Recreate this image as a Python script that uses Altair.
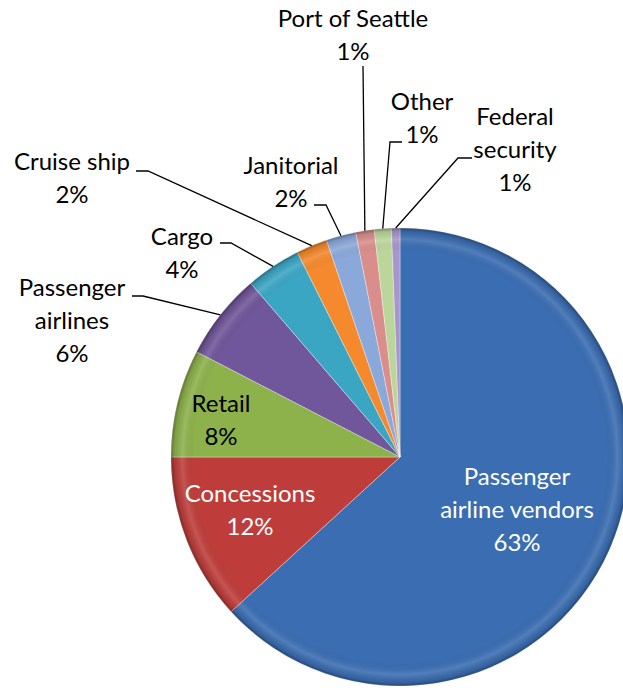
import math
import altair as alt
import pandas as pd

# ---- data ----
categories = ["Passenger airline vendors", "Concessions", "Retail", "Passenger airlines",
              "Cargo", "Cruise ship", "Janitorial", "Port of Seattle", "Other", "Federal security"]
shares = [63.2, 11.8, 7.6, 6.1, 3.9, 2.2, 2.1, 1.3, 1.2, 0.6]
label_names = ["Passenger\nairline vendors", "Concessions", "Retail", "Passenger\nairlines",
               "Cargo", "Cruise ship", "Janitorial", "Port of Seattle", "Other", "Federal\nsecurity"]
colors = ["#3A6DB2", "#BE3D3A", "#8DB14B", "#70569A", "#3BA6C4",
          "#F4892D", "#8AA8D9", "#D98E8C", "#BBD69A", "#A895C9"]

# ---- layout ----
W, H = 623, 691
CX, CY, R = 400, 457, 229
label_x = [517, 250, 221, 72, 182, 72, 291, 353, 422, 515]
label_y = [478, 495, 405, 289, 238, 163, 167, 20, 103, 118]   # first line centre
label_color = ["white", "white", "black", "black", "black", "black", "black", "black", "black", "black"]
# leader start and elbow points (label side), per slice index
leader_pts = {
    3: [(132, 296), (143, 296)],
    4: [(220, 243), (231, 243)],
    5: [(136, 171), (148, 171)],
    6: [(314, 205), (326, 205)],
    7: [(363, 66), (363, 66)],
    8: [(402, 142), (390, 142)],
    9: [(472, 158), (458, 158)],
}

total = sum(shares)
pie_df = pd.DataFrame({"category": categories, "share": shares, "idx": list(range(len(shares)))})

pct = [f"{round(s / total * 100)}%" for s in shares]
labels_df = pd.DataFrame({
    "text": [f"{n}\n{p}" for n, p in zip(label_names, pct)],
    "x": label_x, "y": label_y, "tcolor": label_color,
})

rows = []
cum = 0.0
for i, s in enumerate(shares):
    mid = (cum + s / 2) / total * 2 * math.pi
    cum += s
    if i in leader_pts:
        pts = leader_pts[i] + [(CX + R * math.sin(mid), CY - R * math.cos(mid))]
        for k, (px, py) in enumerate(pts):
            rows.append({"slice": categories[i], "ord": k, "x": px, "y": py})
lines_df = pd.DataFrame(rows)

xs = alt.Scale(domain=[0, W], range=[0, W])
ys = alt.Scale(domain=[0, H], range=[0, H])

pie = alt.Chart(pie_df).mark_arc(outerRadius=R, stroke="white", strokeOpacity=0.35, strokeWidth=1).encode(
    theta=alt.Theta("share:Q", stack=True),
    color=alt.Color("category:N", scale=alt.Scale(domain=categories, range=colors), legend=None),
    order=alt.Order("idx:Q"),
    x=alt.value(CX), y=alt.value(CY),
)

shade = alt.Chart(pd.DataFrame({"a": [0]})).mark_arc(
    outerRadius=R, theta=0, theta2=2 * math.pi,
    fill=alt.Gradient(gradient="radial", x1=0.5, y1=0.5, x2=0.5, y2=0.5, r1=0, r2=0.5,
                      stops=[alt.GradientStop(offset=0, color="rgba(0,0,0,0)"),
                             alt.GradientStop(offset=0.9, color="rgba(0,0,0,0)"),
                             alt.GradientStop(offset=0.95, color="rgba(255,255,255,0.12)"),
                             alt.GradientStop(offset=0.985, color="rgba(0,0,0,0.10)"),
                             alt.GradientStop(offset=1, color="rgba(0,0,0,0.35)")]),
).encode(x=alt.value(CX), y=alt.value(CY))

leaders = alt.Chart(lines_df).mark_line(color="black", strokeWidth=1.3).encode(
    x=alt.X("x:Q", scale=xs, axis=None),
    y=alt.Y("y:Q", scale=ys, axis=None),
    detail="slice:N",
    order="ord:Q",
)

texts = alt.Chart(labels_df).mark_text(
    font="Lato", fontSize=24, lineBreak="\n", lineHeight=33, align="center", baseline="middle"
).encode(
    x=alt.X("x:Q", scale=xs, axis=None),
    y=alt.Y("y:Q", scale=ys, axis=None),
    text="text:N",
    color=alt.Color("tcolor:N", scale=None),
)

chart = alt.layer(pie, shade, leaders, texts).properties(
    width=W, height=H, autosize=alt.AutoSizeParams(type="none"), padding=0,
    background="white",
).configure_view(stroke=None)

chart.save("out.html", embed_options={"renderer": "svg", "actions": False})
